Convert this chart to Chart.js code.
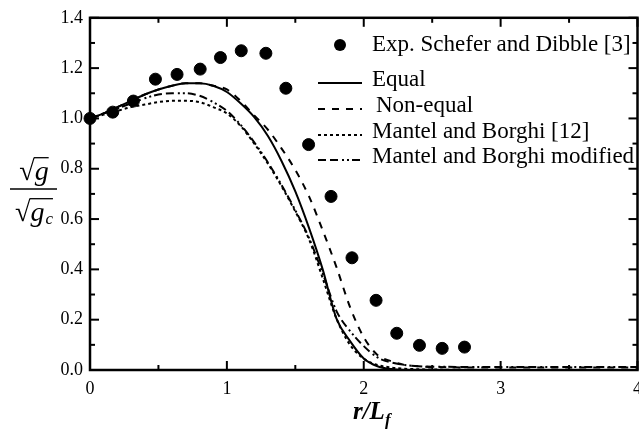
<!DOCTYPE html>
<html>
<head>
<meta charset="utf-8">
<script src="https://cdn.jsdelivr.net/npm/chart.js@4.4.1/dist/chart.umd.min.js"></script>
<style>
  html,body{margin:0;padding:0;background:#fff;}
  #wrap{width:639px;height:429px;position:relative;}
</style>
</head>
<body>
<div id="wrap"><canvas id="chart"></canvas></div>
<script>
// measured points (Schefer and Dibble)
const expX = [0, 0.166, 0.317, 0.478, 0.636, 0.805, 0.953, 1.105, 1.285, 1.431, 1.597, 1.761, 1.914, 2.09, 2.241, 2.407, 2.573, 2.736];
const expY = [1.0, 1.025, 1.069, 1.156, 1.175, 1.196, 1.242, 1.269, 1.259, 1.12, 0.896, 0.69, 0.446, 0.277, 0.146, 0.098, 0.086, 0.091];

// model curves, read at these r/Lf positions
const curveX   = [0, 0.1, 0.2, 0.3, 0.4, 0.5, 0.6, 0.7, 0.8, 0.9, 1.0, 1.1, 1.2, 1.3, 1.4, 1.5, 1.6, 1.7, 1.8, 1.9, 2.0, 2.1, 2.2, 2.3, 2.4, 2.5, 3.0, 3.5, 4.0];
const equalY   = [1.00, 1.02, 1.045, 1.07, 1.095, 1.115, 1.13, 1.14, 1.14, 1.13, 1.105, 1.06, 1.005, 0.93, 0.83, 0.71, 0.565, 0.40, 0.205, 0.115, 0.046, 0.015, 0.004, 0, 0, 0, 0, 0, 0];
const nonEqualY= [1.00, 1.02, 1.045, 1.07, 1.095, 1.115, 1.13, 1.14, 1.14, 1.13, 1.115, 1.07, 1.012, 0.955, 0.88, 0.795, 0.69, 0.555, 0.41, 0.25, 0.13, 0.06, 0.035, 0.02, 0.015, 0.012, 0.01, 0.01, 0.01];
const mantelY  = [1.00, 1.015, 1.03, 1.045, 1.055, 1.065, 1.07, 1.07, 1.065, 1.045, 1.02, 0.97, 0.90, 0.82, 0.73, 0.63, 0.52, 0.365, 0.205, 0.10, 0.045, 0.02, 0.01, 0.005, 0.003, 0.002, 0, 0, 0];
const modifiedY= [1.00, 1.02, 1.04, 1.06, 1.08, 1.095, 1.10, 1.10, 1.09, 1.065, 1.03, 0.975, 0.905, 0.825, 0.735, 0.635, 0.525, 0.385, 0.235, 0.155, 0.095, 0.05, 0.03, 0.02, 0.015, 0.013, 0.012, 0.012, 0.012];

const seriesNames = ["Exp. Schefer and Dibble [3]", "Equal", "Non-equal", "Mantel and Borghi [12]", "Mantel and Borghi modified"];
const dashes = [[], [], [7, 7], [3, 3], [8, 4, 8, 4, 2, 3, 2, 3]];

const serif = '"Liberation Serif", "Times New Roman", serif';
const pts = (xs, ys) => xs.map((x, i) => ({x, y: ys[i]}));

function curve(i, ys){
  return {label: seriesNames[i], data: pts(curveX, ys), showLine: true, pointRadius: 0,
    borderColor: '#000', borderWidth: 2, borderDash: dashes[i], cubicInterpolationMode: 'monotone', fill: false};
}

function seg(ctx, x1, y1, x2, y2){ ctx.beginPath(); ctx.moveTo(x1, y1); ctx.lineTo(x2, y2); ctx.stroke(); }

const frame = {
  id: 'frame',
  beforeDatasetsDraw(chart){
    const {ctx, chartArea: a, scales: {x, y}} = chart;
    ctx.save();
    ctx.strokeStyle = '#000';
    ctx.lineWidth = 2.5;
    ctx.strokeRect(a.left, a.top, a.right - a.left, a.bottom - a.top);
    ctx.lineWidth = 2;
    for(let i = 0; i <= 14; i++){
      const py = y.getPixelForValue(i / 10), l = i % 2 ? 5 : 9;
      seg(ctx, a.left, py, a.left + l, py); seg(ctx, a.right, py, a.right - l, py);
    }
    for(let i = 0; i <= 8; i++){
      const px = x.getPixelForValue(i / 2), l = i % 2 ? 5 : 9;
      seg(ctx, px, a.bottom, px, a.bottom - l); seg(ctx, px, a.top, px, a.top + l);
    }
    ctx.restore();
  },
  afterDraw(chart){
    const {ctx, chartArea: a} = chart;
    ctx.save();
    ctx.fillStyle = '#000'; ctx.strokeStyle = '#000';
    // legend
    const rows = [45, 80, 106, 132, 157];
    ctx.font = '23px ' + serif; ctx.textBaseline = 'middle'; ctx.textAlign = 'left';
    rows.forEach((ry, i) => {
      if(i === 0){ ctx.beginPath(); ctx.arc(340, ry, 6, 0, Math.PI * 2); ctx.fill(); }
      else { ctx.lineWidth = 2; ctx.setLineDash(dashes[i]); seg(ctx, 318, ry + 3, 362, ry + 3); ctx.setLineDash([]); }
      ctx.fillText(seriesNames[i], i === 2 ? 376 : 372, ry);
    });
    // x title  r/L_f
    ctx.textBaseline = 'alphabetic';
    ctx.font = 'bold italic 25px ' + serif;
    const w1 = ctx.measureText('r/L').width;
    ctx.font = 'bold italic 17px ' + serif;
    const w2 = ctx.measureText('f').width;
    let tx = (a.left + a.right) / 2 + 8 - (w1 + w2) / 2;
    ctx.font = 'bold italic 25px ' + serif; ctx.fillText('r/L', tx, 419);
    ctx.font = 'bold italic 17px ' + serif; ctx.fillText('f', tx + w1, 425);
    // y title: sqrt(g) / sqrt(g_c)
    const root = (cx, base, sub) => {
      ctx.font = '28px ' + serif;
      const m = ctx.measureText('\u221A'), rw = m.width, top = base - m.actualBoundingBoxAscent;
      ctx.font = 'italic 28px ' + serif; const gw = ctx.measureText('g').width;
      ctx.font = 'italic 17px ' + serif; const sw = sub ? ctx.measureText(sub).width + 1 : 0;
      const x0 = cx - (rw + gw + sw) / 2;
      ctx.font = '28px ' + serif; ctx.fillText('\u221A', x0, base);
      ctx.font = 'italic 28px ' + serif; ctx.fillText('g', x0 + rw, base);
      if(sub){ ctx.font = 'italic 17px ' + serif; ctx.fillText(sub, x0 + rw + gw + 1, base + 3); }
      ctx.lineWidth = 1.3; seg(ctx, x0 + rw - 1, top + 0.7, x0 + rw + gw + sw, top + 0.7);
    };
    root(34, 180, null);
    ctx.lineWidth = 1.5; seg(ctx, 10, 189, 57, 189);
    root(34, 221, 'c');
    ctx.restore();
  }
};

new Chart(document.getElementById('chart'), {
  type: 'scatter',
  data: {
    datasets: [
      {label: seriesNames[0], data: pts(expX, expY), pointRadius: 6, pointHoverRadius: 6,
        backgroundColor: '#000', borderColor: '#000', showLine: false, clip: false},
      curve(1, equalY),
      curve(2, nonEqualY),
      curve(3, mantelY),
      curve(4, modifiedY)
    ]
  },
  options: {
    responsive: true, maintainAspectRatio: false, animation: false,
    layout: {autoPadding: false, padding: {top: 16, right: 1.5, left: 0, bottom: 0}},
    plugins: {legend: {display: false}, tooltip: {enabled: false}},
    scales: {
      x: {type: 'linear', min: 0, max: 4,
        ticks: {stepSize: 1, padding: 8, color: '#000', maxRotation: 0, font: {family: serif, size: 18}, callback: v => v},
        grid: {display: false, drawTicks: false}, border: {display: false},
        afterFit(s){ s.height = 59; s.paddingRight = 0; }},
      y: {min: 0, max: 1.4,
        ticks: {stepSize: 0.2, padding: 7, color: '#000', font: {family: serif, size: 18}, callback: v => v.toFixed(1)},
        grid: {display: false, drawTicks: false}, border: {display: false},
        afterFit(s){ s.width = 90; }}
    }
  },
  plugins: [frame]
});
</script>
</body>
</html>
